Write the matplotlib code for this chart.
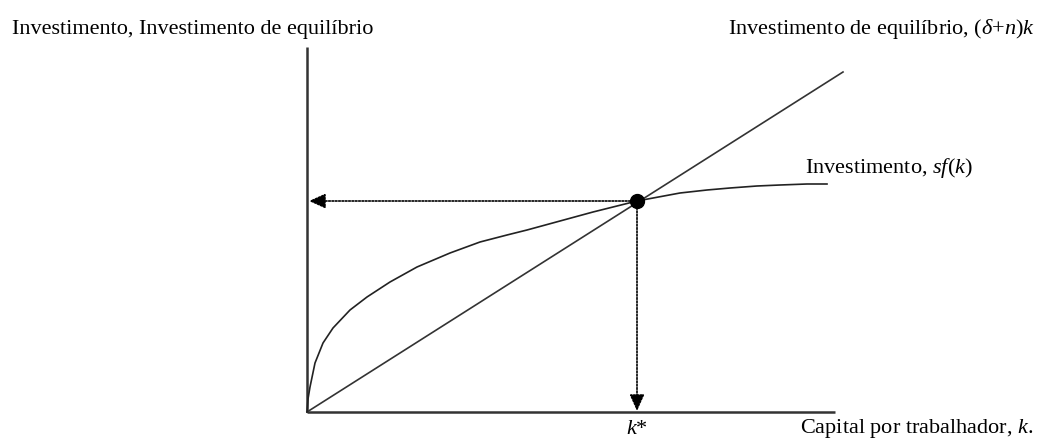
import matplotlib
matplotlib.use("Agg")
import matplotlib.pyplot as plt

plt.rcParams['font.family'] = ['Liberation Serif', 'DejaVu Serif']
plt.rcParams['mathtext.fontset'] = 'custom'
plt.rcParams['mathtext.rm'] = 'Liberation Serif'
plt.rcParams['mathtext.it'] = 'Liberation Serif:italic'

# capital per worker k and investment sf(k)
k_curve = [0, 1, 3, 8, 16, 26, 43, 60, 83, 110, 143, 173, 200, 220, 253, 286, 330,
           373, 400, 423, 450, 473, 500, 520]
sf_curve = [0, 13, 25, 49, 69, 84, 102, 115, 130, 145, 159, 170, 177, 182, 191, 200, 211,
            219, 222, 224, 226, 227, 228, 228]

# break-even investment line (delta+n)k
k_line = [0, 536]
dn_line = [0, 340]

# steady state
k_star = 330
y_star = 211

x_max = 528
y_max = 365

title_y = "Investimento, Investimento de equilíbrio"
label_line = r"Investimento de equilíbrio, $(δ{+}n)k$"
label_curve = r"Investimento, $sf(k)$"
label_x = r"Capital por trabalhador, $k$."
label_kstar = r"$k$*"

fig = plt.figure(figsize=(10.38, 4.38), dpi=100)
ax = fig.add_axes([0, 0, 1, 1])
ax.set_xlim(-307, 1038 - 307)
ax.set_ylim(-26, 412)
ax.axis('off')

# axes
ax.plot([0, 0], [0, y_max], color='#333333', lw=1.8, solid_capstyle='butt')
ax.plot([0, x_max], [0, 0], color='#333333', lw=1.8, solid_capstyle='butt')

# curves
ax.plot(k_line, dn_line, color='#333333', lw=1.2)
ax.plot(k_curve, sf_curve, color='#222222', lw=1.2, solid_joinstyle='round')

# dotted arrows from the steady state
arrow = dict(arrowstyle='-|>,head_length=1.0,head_width=0.45', color='black',
             lw=1.2, linestyle=(0, (1, 1)), shrinkA=0, shrinkB=0)
ax.annotate('', xy=(2, y_star), xytext=(k_star, y_star), arrowprops=arrow)
ax.annotate('', xy=(k_star, 1), xytext=(k_star, y_star), arrowprops=arrow)
ax.plot([k_star], [y_star], 'o', color='black', ms=10)

# texts
fs = 16
ax.text(-295, 378, title_y, fontsize=fs, ha='left', va='baseline')
ax.text(728, 378, label_line, fontsize=fs, ha='right', va='baseline')
ax.text(498, 239, label_curve, fontsize=fs, ha='left', va='baseline')
ax.text(k_star, -22, label_kstar, fontsize=fs, ha='center', va='baseline')
ax.text(726, -21, label_x, fontsize=fs, ha='right', va='baseline')

fig.savefig('out.png', dpi=100)
